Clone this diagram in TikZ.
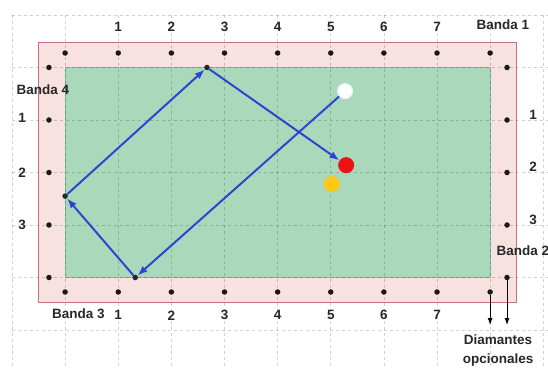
\documentclass[tikz,border=0pt]{standalone}
\usepackage{fontspec}
\setmainfont{Liberation Sans}
\usetikzlibrary{arrows.meta}
\definecolor{cloth}{RGB}{170,216,186}
\definecolor{clothedge}{RGB}{120,195,160}
\definecolor{rail}{RGB}{247,225,225}
\definecolor{railedge}{RGB}{200,112,122}
\definecolor{cuecol}{RGB}{45,70,210}
\definecolor{txt}{RGB}{40,40,40}
\definecolor{ballred}{RGB}{235,20,20}
\definecolor{ballyellow}{RGB}{255,200,20}
\tikzset{
  gridline/.style={draw=black,opacity=0.18,line width=0.7pt,dash pattern=on 3pt off 3pt},
  railbox/.style={fill=rail,draw=railedge,line width=1.2pt},
  clothbox/.style={fill=cloth,draw=clothedge,line width=1pt},
  diamond dot/.style={circle,fill=black!90,inner sep=0pt,minimum size=5.5pt},
  contact/.style={circle,fill=black!85,inner sep=0pt,minimum size=5.5pt},
  lbl/.style={text=txt,font=\bfseries\fontsize{13.5}{15}\selectfont,inner sep=0pt},
  cuepath/.style={draw=cuecol,line width=2pt,-{Latex[length=10pt,width=7.5pt]}},
  thin arrow/.style={draw=black,line width=0.9pt,-{Latex[length=7pt,width=5pt]}},
  ball/.style={circle,inner sep=0pt,minimum size=#1},
}
\begin{document}
\begin{tikzpicture}[x=53.125pt,y=-52.5pt]
\useasboundingbox (-0.2259,-0.2857) rectangle (10.0894,6.7048);
\fill[white] (-0.2259,-0.2857) rectangle (10.0894,6.7048);
% rail and cloth
\path[railbox] (0.5,0.52) rectangle (9.5,5.47);
\path[clothbox] (1,1) rectangle (9,5);
% grid
\foreach \i in {0,...,10} \draw[gridline] (\i,0) -- (\i,6.7048);
\foreach \j in {0,...,6} \draw[gridline] (0,\j) -- (10.0894,\j);
% diamonds
\foreach \i in {1,...,9} {
  \node[diamond dot] (t\i) at (\i,0.724) {};
  \node[diamond dot] (b\i) at (\i,5.276) {};
}
\foreach \j in {1,...,5} {
  \node[diamond dot] (l\j) at (0.696,\j) {};
  \node[diamond dot] (r\j) at (9.318,\j) {};
}
% labels
\foreach \n in {1,...,7} {
  \node[lbl] (tn\n) at (\n+1,0.23) {\n};
  \node[lbl] (bn\n) at (\n+1,5.72) {\n};
}
\foreach \n/\y in {1/1.95,2/3,3/4} \node[lbl] (ln\n) at (0.19,\y) {\n};
\foreach \n/\y in {1/1.9,2/2.9,3/3.9} \node[lbl] (rn\n) at (9.81,\y) {\n};
\node[lbl] (banda1) at (9.24,0.19) {Banda 1};
\node[lbl,anchor=west] (banda2) at (9.12,4.48) {Banda 2};
\node[lbl] (banda3) at (1.25,5.68) {Banda 3};
\node[lbl] (banda4) at (0.58,1.43) {Banda 4};
\node[lbl] (diam) at (9.15,6.19) {Diamantes};
\node[lbl] (opc) at (9.15,6.57) {opcionales};
% optional diamonds arrows
\coordinate (e1) at (9,5.905);
\coordinate (e2) at (9.318,5.905);
\draw[thin arrow] (b9) -- (e1);
\draw[thin arrow] (r5) -- (e2);
% balls
\node[ball=16pt,fill=ballred] (red) at (6.29,2.86) {};
\node[ball=16pt,fill=ballyellow] (yellow) at (6.02,3.22) {};
\node[ball=15pt,fill=white,draw=white!70!cloth,line width=1.2pt] (white) at (6.27,1.45) {};
% contact points
\node[contact] (p1) at (2.32,5) {};
\node[contact] (p2) at (1,3.45) {};
\node[contact] (p3) at (3.67,1) {};
% cue ball trajectory
\draw[cuepath] (white) -- (p1);
\draw[cuepath] (p1) -- (p2);
\draw[cuepath] (p2) -- (p3);
\draw[cuepath] (p3) -- (red);
\end{tikzpicture}
\end{document}
